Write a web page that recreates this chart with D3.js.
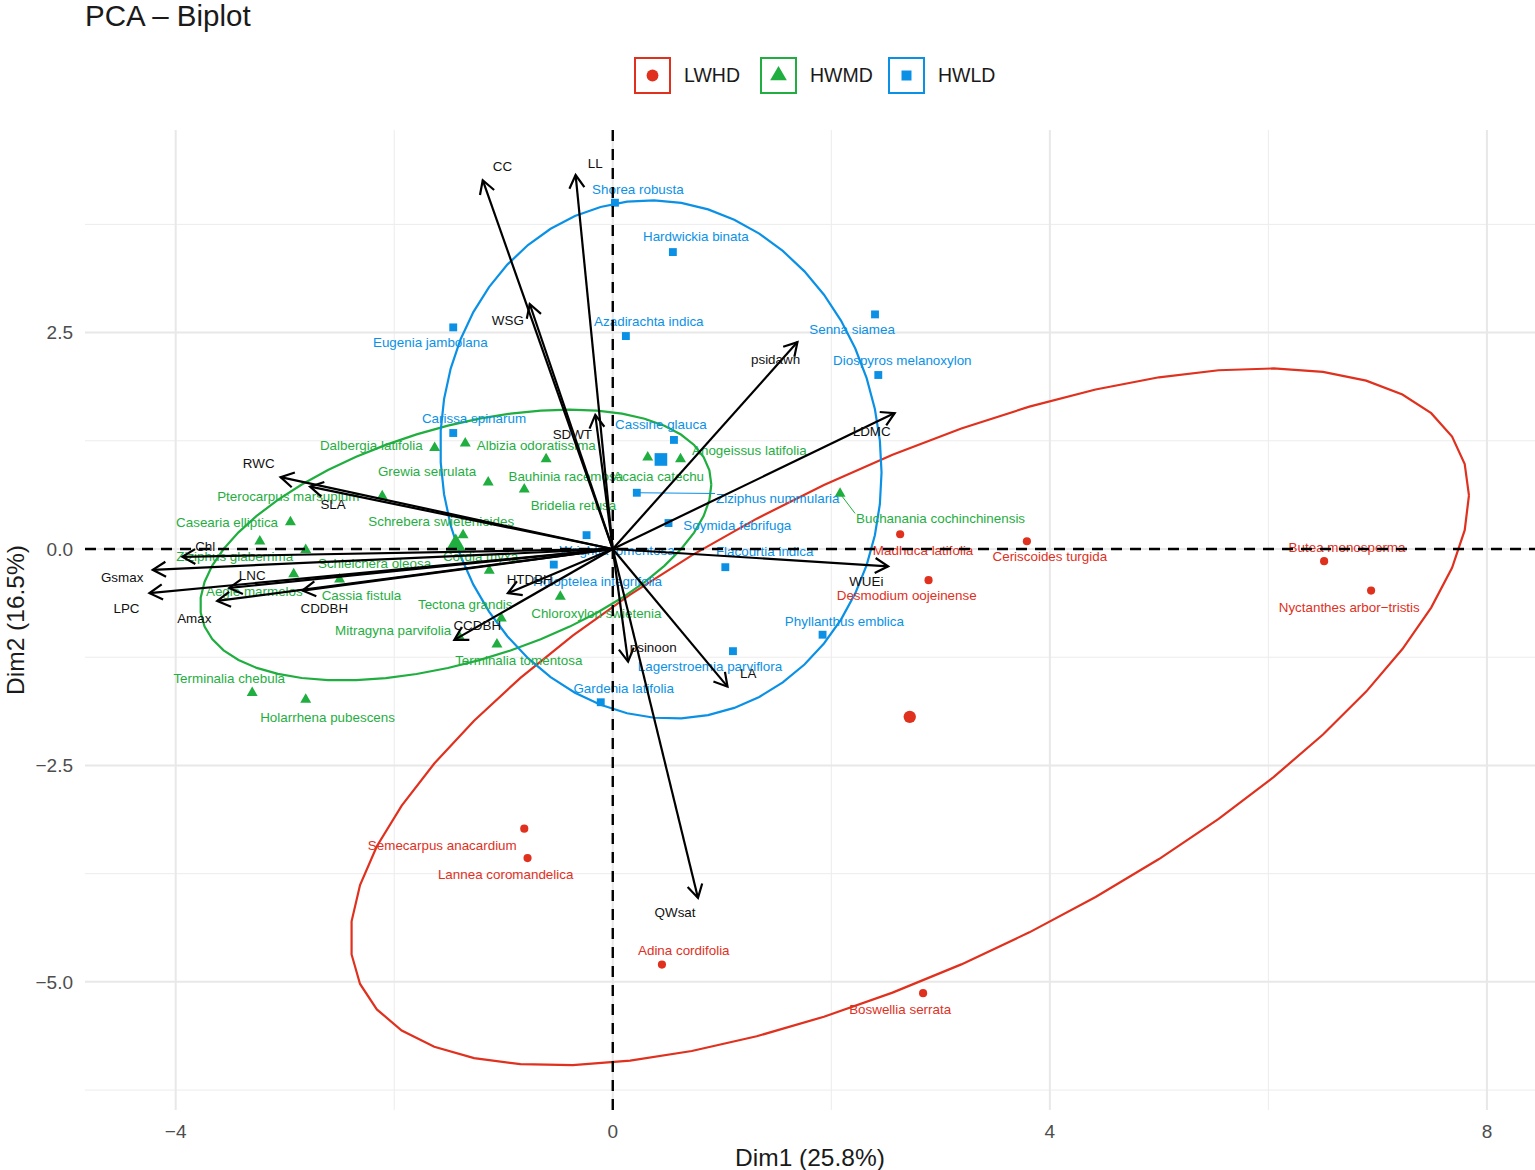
<!DOCTYPE html>
<html>
<head>
<meta charset="utf-8">
<script src="https://cdn.jsdelivr.net/npm/d3@7"></script>
<style>
  body { margin: 0; background: #fff; }
  text { font-family: "Liberation Sans", Arial, Helvetica, sans-serif; }
</style>
</head>
<body>
<div id="chart-container"></div>
<script>
// groups and colours
const groups = ["LWHD", "HWMD", "HWLD"];
const groupColors = ["#E0301E", "#1FAE3F", "#0A91E6"];

// species scores (Dim1, Dim2) per group
const lwhdNames = ["Madhuca latifolia", "Ceriscoides turgida", "Butea monosperma", "Nyctanthes arbor−tristis",
  "Desmodium oojeinense", "Semecarpus anacardium", "Lannea coromandelica", "Adina cordifolia", "Boswellia serrata"];
const lwhdDim1 = [2.63, 3.79, 6.51, 6.94, 2.89, -0.81, -0.78, 0.45, 2.84];
const lwhdDim2 = [0.17, 0.09, -0.14, -0.48, -0.36, -3.23, -3.57, -4.80, -5.13];

const hwmdNames = ["Dalbergia latifolia", "Albizia odoratissima", "Grewia serrulata", "Bauhinia racemosa",
  "Bridelia retusa", "Pterocarpus marsupium", "Casearia elliptica", "Schrebera swietenioides",
  "Ziziphus glaberrima", "Schleichera oleosa", "Aegle marmelos", "Cassia fistula", "Cordia myxa",
  "Tectona grandis", "Chloroxylon swietenia", "Mitragyna parvifolia", "Terminalia tomentosa",
  "Terminalia chebula", "Holarrhena pubescens", "Acacia catechu", "Anogeissus latifolia",
  "Buchanania cochinchinensis"];
const hwmdDim1 = [-1.63, -1.35, -1.14, -0.61, -0.81, -2.11, -2.95, -1.37, -3.23, -2.81, -2.92, -2.50, -1.13,
  -1.02, -0.48, -1.40, -1.06, -3.30, -2.81, 0.32, 0.62, 2.08];
const hwmdDim2 = [1.17, 1.22, 0.77, 1.04, 0.69, 0.61, 0.31, 0.16, 0.09, -0.01, -0.29, -0.35, -0.25,
  -0.80, -0.55, -1.02, -1.10, -1.66, -1.74, 1.06, 1.04, 0.64];

const hwldNames = ["Shorea robusta", "Hardwickia binata", "Senna siamea", "Diospyros melanoxylon",
  "Eugenia jambolana", "Azadirachta indica", "Carissa spinarum", "Cassine glauca", "Ziziphus nummularia",
  "Soymida febrifuga", "Flacourtia indica", "Phyllanthus emblica", "Lagerstroemia parviflora",
  "Gardenia latifolia", "Holoptelea integrifolia", "Wrightia tomentosa"];
const hwldDim1 = [0.02, 0.55, 2.40, 2.43, -1.46, 0.12, -1.46, 0.56, 0.22, 0.51, 1.03, 1.92, 1.10, -0.11, -0.54, -0.24];
const hwldDim2 = [4.00, 3.43, 2.71, 2.01, 2.56, 2.46, 1.34, 1.26, 0.65, 0.30, -0.21, -0.99, -1.18, -1.77, -0.18, 0.16];

// where the repelled labels ended up (Dim1, Dim2 units)
const lwhdLabelAt = [[2.84, -0.01], [4.00, -0.09], [6.72, 0.02], [6.74, -0.67], [2.69, -0.54],
  [-1.56, -3.42], [-0.98, -3.76], [0.65, -4.63], [2.63, -5.32]];
const hwmdLabelAt = [[-2.21, 1.20], [-0.70, 1.20], [-1.70, 0.90], [-0.43, 0.84], [-0.36, 0.50],
  [-2.97, 0.61], [-3.53, 0.31], [-1.57, 0.32], [-3.46, -0.09], [-2.18, -0.17], [-3.28, -0.49],
  [-2.30, -0.53], [-1.21, -0.08], [-1.35, -0.64], [-0.15, -0.74], [-2.01, -0.94], [-0.86, -1.29],
  [-3.51, -1.49], [-2.61, -1.94], [0.42, 0.84], [1.25, 1.14], [3.00, 0.35]];
const hwldLabelAt = [[0.23, 4.16], [0.76, 3.61], [2.19, 2.54], [2.65, 2.18], [-1.67, 2.39], [0.33, 2.63],
  [-1.27, 1.51], [0.44, 1.44], [1.51, 0.58], [1.14, 0.27], [1.39, -0.03], [2.12, -0.83], [0.89, -1.36],
  [0.10, -1.61], [-0.14, -0.37], [0.04, -0.02]];
// labels that got a leader segment
const leaderLabels = ["Ziziphus nummularia", "Buchanania cochinchinensis"];

// variable loadings (arrows)
const varNames = ["CC", "LL", "WSG", "psidawn", "LDMC", "SDWT", "RWC", "SLA", "Chl", "Gsmax", "LPC",
  "LNC", "Amax", "CDDBH", "HTDBH", "CCDBH", "psinoon", "LA", "QWsat", "WUEi"];
const varDim1 = [-1.19, -0.34, -0.76, 1.69, 2.58, -0.16, -3.04, -2.77, -3.94, -4.21, -4.24,
  -3.51, -3.62, -2.84, -0.96, -1.45, 0.14, 1.05, 0.78, 2.52];
const varDim2 = [4.26, 4.32, 2.83, 2.39, 1.57, 1.55, 0.83, 0.72, -0.09, -0.24, -0.51,
  -0.45, -0.60, -0.48, -0.51, -1.05, -1.30, -1.59, -4.03, -0.20];
const varLabelAt = [[-1.01, 4.42], [-0.16, 4.46], [-0.96, 2.64], [1.49, 2.19], [2.37, 1.36], [-0.37, 1.33],
  [-3.24, 0.99], [-2.56, 0.52], [-3.73, 0.03], [-4.49, -0.33], [-4.45, -0.68], [-3.30, -0.30],
  [-3.83, -0.80], [-2.64, -0.69], [-0.76, -0.35], [-1.24, -0.88], [0.37, -1.13], [1.24, -1.44],
  [0.57, -4.20], [2.32, -0.37]];

const xTicks = [-4, 0, 4, 8];
const xMinor = [-2, 2, 6];
const yTicks = [2.5, 0, -2.5, -5];
const yMinor = [3.75, 1.25, -1.25, -3.75, -6.25];

const ellipseLevel = 0.75;

// ---------------------------------------------------------------
const W = 1535, H = 1170;
const panel = { left: 85, right: 1535, top: 130, bottom: 1110 };

const x = d3.scaleLinear().domain([-4.83, 8.44]).range([panel.left, panel.right]);
const y = d3.scaleLinear().domain([-6.48, 4.84]).range([panel.bottom, panel.top]);

const svg = d3.select("#chart-container").append("svg")
  .attr("width", W).attr("height", H);

const symbols = [d3.symbolCircle, d3.symbolTriangle, d3.symbolSquare];
const symSize = [52, 52, 62];
const meanSize = [120, 170, 160];

const groupData = [
  { names: lwhdNames, d1: lwhdDim1, d2: lwhdDim2, lab: lwhdLabelAt },
  { names: hwmdNames, d1: hwmdDim1, d2: hwmdDim2, lab: hwmdLabelAt },
  { names: hwldNames, d1: hwldDim1, d2: hwldDim2, lab: hwldLabelAt }
];

// title
svg.append("text").attr("x", 85).attr("y", 26)
  .attr("font-size", 29.5).attr("fill", "#1a1a1a").text("PCA – Biplot");

// legend
const legendX = [634, 760, 888];
groups.forEach(function (g, i) {
  const lg = svg.append("g").attr("transform", `translate(${legendX[i]},57)`);
  lg.append("rect").attr("x", 1).attr("y", 1).attr("width", 35).attr("height", 35)
    .attr("fill", "none").attr("stroke", groupColors[i]).attr("stroke-width", 2);
  lg.append("path").attr("transform", "translate(18.5,18.5)")
    .attr("d", d3.symbol().type(symbols[i]).size([110, 120, 100][i])())
    .attr("fill", groupColors[i]);
  lg.append("text").attr("x", 50).attr("y", 18.5).attr("dy", "0.35em")
    .attr("font-size", 19.5).attr("fill", "#1a1a1a").text(g);
});

const plot = svg.append("g");
plot.append("defs").append("clipPath").attr("id", "clip")
  .append("rect").attr("x", panel.left).attr("y", panel.top)
  .attr("width", panel.right - panel.left).attr("height", panel.bottom - panel.top);

// grid
plot.selectAll(".gx-minor").data(xMinor).enter().append("line")
  .attr("x1", d => x(d)).attr("x2", d => x(d)).attr("y1", panel.top).attr("y2", panel.bottom)
  .attr("stroke", "#ececec").attr("stroke-width", 1);
plot.selectAll(".gy-minor").data(yMinor).enter().append("line")
  .attr("y1", d => y(d)).attr("y2", d => y(d)).attr("x1", panel.left).attr("x2", panel.right)
  .attr("stroke", "#ececec").attr("stroke-width", 1);
plot.selectAll(".gx").data(xTicks).enter().append("line")
  .attr("x1", d => x(d)).attr("x2", d => x(d)).attr("y1", panel.top).attr("y2", panel.bottom)
  .attr("stroke", "#e8e8e8").attr("stroke-width", 2);
plot.selectAll(".gy").data(yTicks).enter().append("line")
  .attr("y1", d => y(d)).attr("y2", d => y(d)).attr("x1", panel.left).attr("x2", panel.right)
  .attr("stroke", "#e8e8e8").attr("stroke-width", 2);

// axis tick labels
svg.selectAll(".xt").data(xTicks).enter().append("text")
  .attr("x", d => x(d)).attr("y", 1131).attr("dy", "0.35em").attr("text-anchor", "middle")
  .attr("font-size", 19).attr("fill", "#4d4d4d")
  .text(d => d3.format("")(d).replace("-", "−"));
svg.selectAll(".yt").data(yTicks).enter().append("text")
  .attr("x", 73).attr("y", d => y(d)).attr("dy", "0.35em").attr("text-anchor", "end")
  .attr("font-size", 19).attr("fill", "#4d4d4d")
  .text(d => d3.format(".1f")(d).replace("-", "−"));

// axis titles
svg.append("text").attr("x", (panel.left + panel.right) / 2).attr("y", 1157).attr("dy", "0.35em")
  .attr("text-anchor", "middle").attr("font-size", 24.5).attr("fill", "#1a1a1a").text("Dim1 (25.8%)");
svg.append("text").attr("transform", `translate(15,${(panel.top + panel.bottom) / 2}) rotate(-90)`)
  .attr("dy", "0.35em").attr("text-anchor", "middle").attr("font-size", 24.5).attr("fill", "#1a1a1a")
  .text("Dim2 (16.5%)");

// normal-theory ellipse, like stat_ellipse(type = "norm")
function ellipse(xs, ys, level) {
  const n = xs.length;
  const mx = d3.mean(xs), my = d3.mean(ys);
  let sxx = 0, sxy = 0, syy = 0;
  for (let i = 0; i < n; i++) {
    sxx += (xs[i] - mx) ** 2;
    sxy += (xs[i] - mx) * (ys[i] - my);
    syy += (ys[i] - my) ** 2;
  }
  sxx /= n - 1; sxy /= n - 1; syy /= n - 1;
  const dfd = n - 1;
  const qf = (dfd / 2) * (Math.pow(1 - level, -2 / dfd) - 1);
  const r = Math.sqrt(2 * qf);
  const r11 = Math.sqrt(sxx), r12 = sxy / r11, r22 = Math.sqrt(syy - r12 * r12);
  return d3.range(52).map(function (i) {
    const t = (i * 2 * Math.PI) / 51;
    const c = Math.cos(t), s = Math.sin(t);
    return [mx + r * c * r11, my + r * (c * r12 + s * r22)];
  });
}

const layer = plot.append("g").attr("clip-path", "url(#clip)");
const line = d3.line().x(d => x(d[0])).y(d => y(d[1]));

groupData.forEach(function (g, i) {
  layer.append("path").datum(ellipse(g.d1, g.d2, ellipseLevel))
    .attr("d", line).attr("fill", "none")
    .attr("stroke", groupColors[i]).attr("stroke-width", 2.2);
});

// points + mean points
groupData.forEach(function (g, i) {
  layer.selectAll(null).data(g.names).enter().append("path")
    .attr("transform", (d, k) => `translate(${x(g.d1[k])},${y(g.d2[k])})`)
    .attr("d", d3.symbol().type(symbols[i]).size(symSize[i])())
    .attr("fill", groupColors[i]);
  layer.append("path")
    .attr("transform", `translate(${x(d3.mean(g.d1))},${y(d3.mean(g.d2))})`)
    .attr("d", d3.symbol().type(symbols[i]).size(meanSize[i])())
    .attr("fill", groupColors[i]);
});

// species labels (with leader lines where ggrepel drew them)
groupData.forEach(function (g, i) {
  g.names.forEach(function (name, k) {
    const t = layer.append("text")
      .attr("x", x(g.lab[k][0])).attr("y", y(g.lab[k][1])).attr("dy", "0.35em")
      .attr("text-anchor", "middle").attr("font-size", 13.4)
      .attr("fill", groupColors[i]).text(name);
    if (leaderLabels.includes(name)) {
      const bb = t.node().getBBox();
      const px = x(g.d1[k]), py = y(g.d2[k]);
      const ey = Math.max(bb.y + 2, Math.min(bb.y + bb.height - 2, py));
      layer.append("line").attr("x1", px).attr("y1", py)
        .attr("x2", bb.x - 1).attr("y2", ey)
        .attr("stroke", groupColors[i]).attr("stroke-width", 1);
    }
  });
});

// reference lines
layer.append("line").attr("x1", panel.left).attr("x2", panel.right).attr("y1", y(0)).attr("y2", y(0))
  .attr("stroke", "#000").attr("stroke-width", 2.4).attr("stroke-dasharray", "11,8");
layer.append("line").attr("y1", panel.top).attr("y2", panel.bottom).attr("x1", x(0)).attr("x2", x(0))
  .attr("stroke", "#000").attr("stroke-width", 2.4).attr("stroke-dasharray", "11,8");

// variable arrows
const headLen = 15, headAng = Math.PI / 6;
varNames.forEach(function (v, i) {
  const x0 = x(0), y0 = y(0), x1 = x(varDim1[i]), y1 = y(varDim2[i]);
  const a = Math.atan2(y1 - y0, x1 - x0);
  const h1 = [x1 - headLen * Math.cos(a - headAng), y1 - headLen * Math.sin(a - headAng)];
  const h2 = [x1 - headLen * Math.cos(a + headAng), y1 - headLen * Math.sin(a + headAng)];
  layer.append("line").attr("x1", x0).attr("y1", y0).attr("x2", x1).attr("y2", y1)
    .attr("stroke", "#000").attr("stroke-width", 2.2);
  layer.append("path").attr("d", `M${h1[0]},${h1[1]}L${x1},${y1}L${h2[0]},${h2[1]}`)
    .attr("fill", "none").attr("stroke", "#000").attr("stroke-width", 2.2)
    .attr("stroke-linejoin", "miter");
  layer.append("text").attr("x", x(varLabelAt[i][0])).attr("y", y(varLabelAt[i][1]))
    .attr("dy", "0.35em").attr("text-anchor", "middle").attr("font-size", 13.4)
    .attr("fill", "#111").text(v);
});
</script>
</body>
</html>
